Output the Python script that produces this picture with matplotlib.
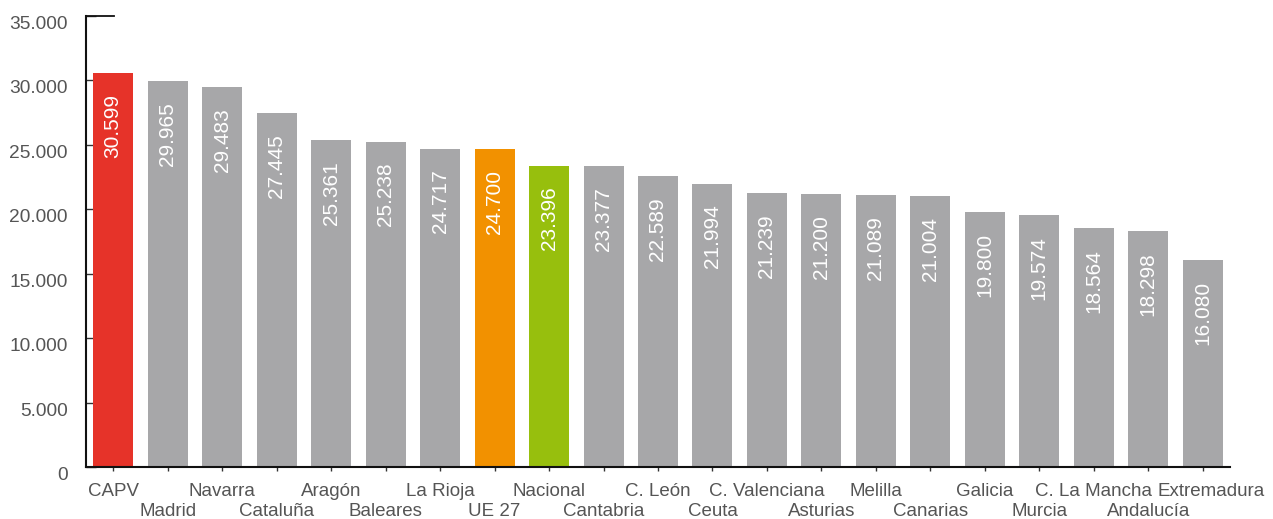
import matplotlib
matplotlib.use("Agg")
import matplotlib.pyplot as plt
from matplotlib.ticker import FuncFormatter

plt.rcParams['font.family'] = ['Liberation Sans', 'DejaVu Sans']

categories = ["CAPV", "Madrid", "Navarra", "Cataluña", "Aragón", "Baleares", "La Rioja",
              "UE 27", "Nacional", "Cantabria", "C. León", "Ceuta", "C. Valenciana",
              "Asturias", "Melilla", "Canarias", "Galicia", "Murcia", "C. La Mancha",
              "Andalucía", "Extremadura"]
values = [30599, 29965, 29483, 27445, 25361, 25238, 24717, 24700, 23396, 23377, 22589,
          21994, 21239, 21200, 21089, 21004, 19800, 19574, 18564, 18298, 16080]
highlight = {"CAPV": "#E63329", "UE 27": "#F29100", "Nacional": "#97BF0D"}
default_color = "#A7A7A9"
yticks = [0, 5000, 10000, 15000, 20000, 25000, 30000, 35000]

W, H = 1273, 519
fig = plt.figure(figsize=(W / 100, H / 100), dpi=100)
ax = fig.add_axes([86 / W, (H - 467) / H, (1230 - 86) / W, (467 - 16) / H])

x = list(range(len(categories)))
colors = [highlight.get(c, default_color) for c in categories]
ax.bar(x, values, width=0.735, color=colors, zorder=2)

for xi, v in zip(x, values):
    s = f"{v:,}".replace(",", ".")
    ax.annotate(s, (xi, v), xytext=(0, -21), textcoords='offset pixels',
                rotation=90, ha='center', va='top', color='white', fontsize=15, zorder=3)

n = len(categories)
for xi, c in zip(x, categories):
    off = -24 if xi % 2 == 0 else -44
    dx = 8 if xi == n - 1 else 0
    ax.annotate(c, (xi, 0), xycoords=('data', 'axes fraction'), xytext=(dx, off),
                textcoords='offset pixels', ha='center', va='center',
                color='#555555', fontsize=13.5, annotation_clip=False)

ax.set_xlim(-0.5, n - 0.5)
ax.set_ylim(0, 35000)
ax.set_yticks(yticks)
ax.yaxis.set_major_formatter(FuncFormatter(lambda v, p: f"{int(v):,}".replace(",", ".")))
ax.tick_params(axis='y', direction='in', length=7, width=1.0, color='#333333',
               labelsize=13.8, labelcolor='#555555', pad=13)
for lab in ax.get_yticklabels():
    lab.set_va('top')
ax.set_xticks(x)
ax.set_xticklabels([])
ax.tick_params(axis='x', direction='out', length=3, width=1.0, color='#333333')

for side in ['top', 'right']:
    ax.spines[side].set_visible(False)
for side in ['left', 'bottom']:
    ax.spines[side].set_linewidth(1.5)
    ax.spines[side].set_color('#111111')
    ax.spines[side].set_zorder(4)

ax.plot([0, 28 / (1230 - 86)], [1, 1], transform=ax.transAxes, color='#111111',
        lw=1.3, clip_on=False, zorder=5)

fig.savefig("out.png", dpi=100)
